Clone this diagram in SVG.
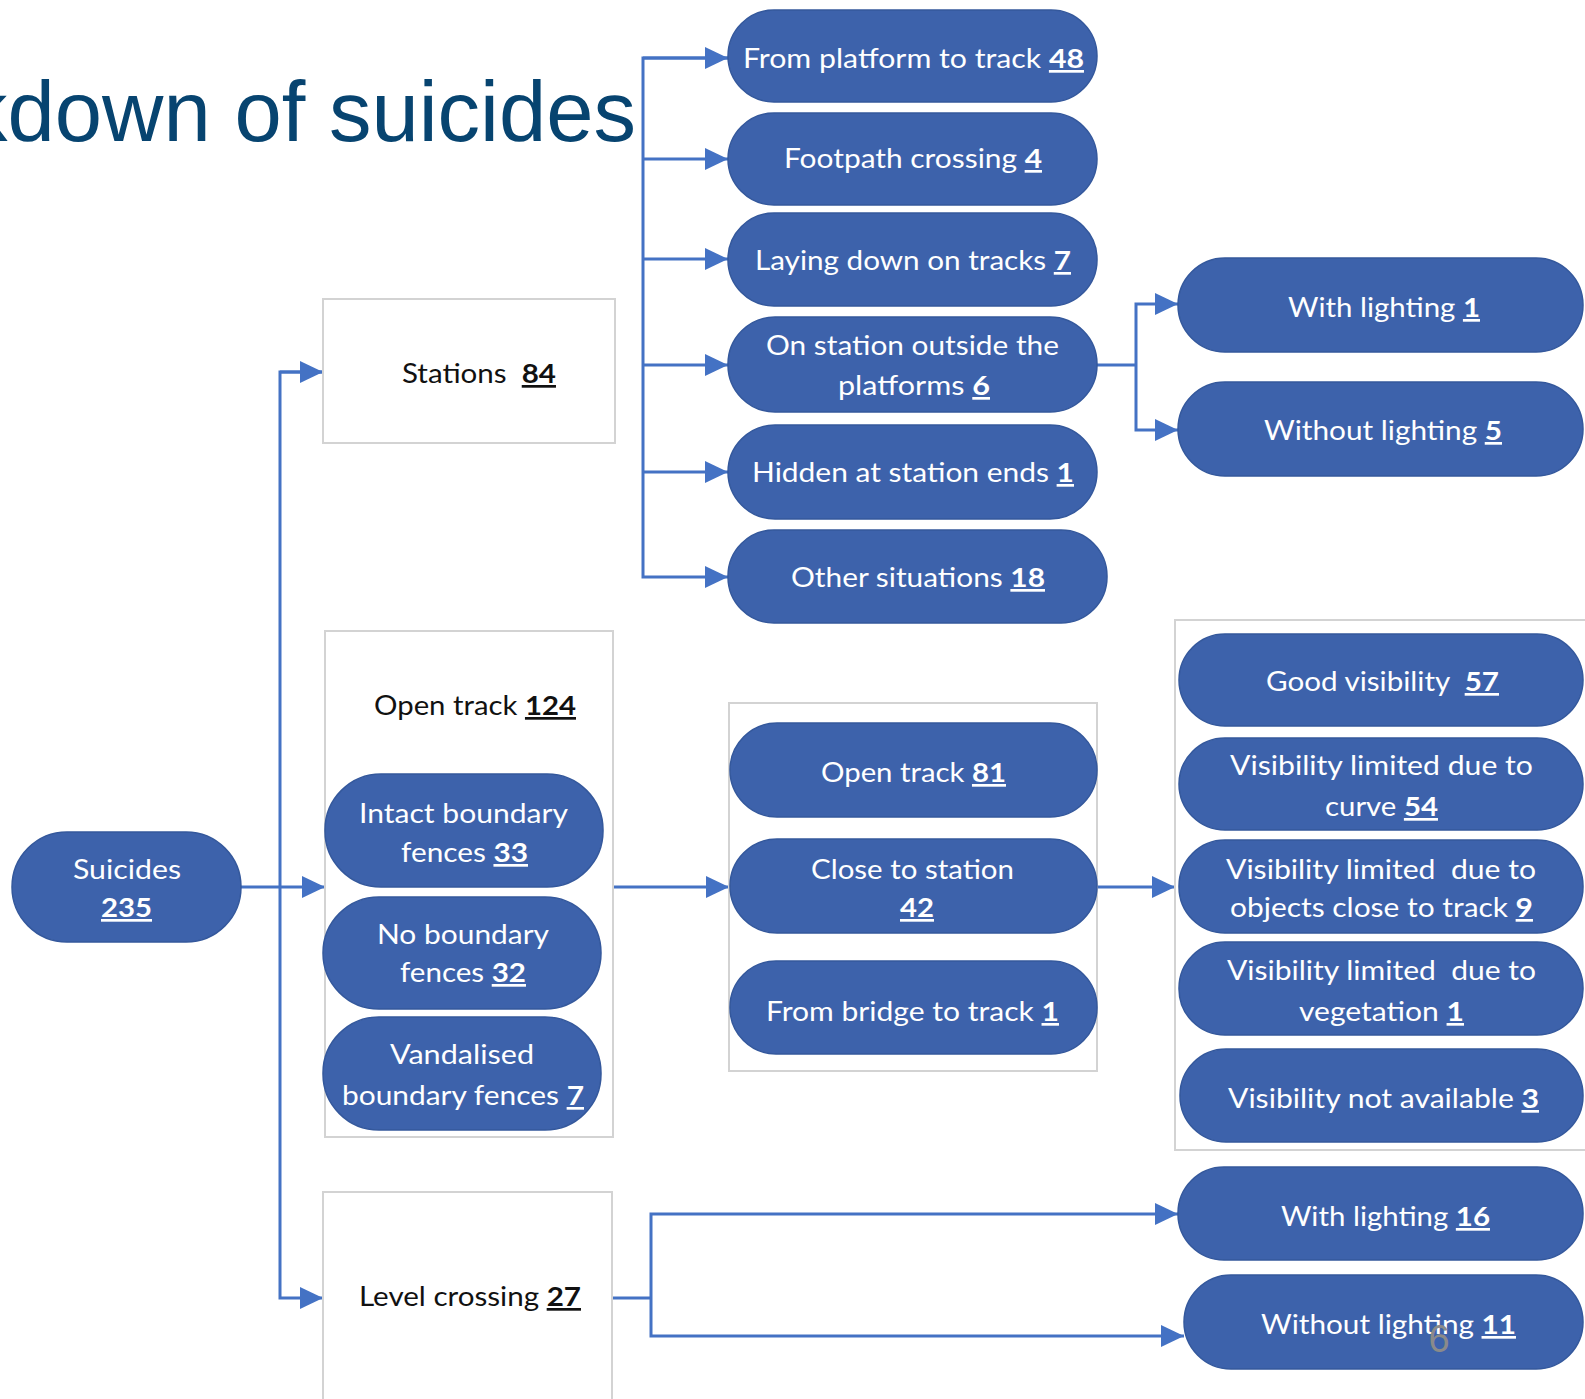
<svg xmlns="http://www.w3.org/2000/svg" width="1585" height="1399" viewBox="0 0 1585 1399">
<style>
.pill{fill:#3d62ab;stroke:#34589c;stroke-width:1.5}
.box{fill:#ffffff;stroke:#d3d3d3;stroke-width:2}
.wt{font-family:Lato,"Open Sans","Liberation Sans",sans-serif;font-size:27px;fill:#ffffff;text-anchor:middle}
.bt{font-family:Lato,"Open Sans","Liberation Sans",sans-serif;font-size:27px;fill:#111111;text-anchor:middle}
.n{font-weight:bold;text-decoration:underline}
.conn{fill:none;stroke:#4472c4;stroke-width:3}
.title{font-family:"Liberation Sans",Arial,sans-serif;font-size:85px;fill:#074470;text-anchor:end}
</style>
<defs>
<marker id="arr" markerUnits="userSpaceOnUse" markerWidth="23" markerHeight="22" refX="23" refY="11" orient="auto">
<path d="M0,0 L23,11 L0,22 z" fill="#4472c4"/>
</marker>
</defs>
<rect width="1585" height="1399" fill="#ffffff"/>

<text class="title" x="636" y="141">kdown of suicides</text>

<g id="connectors">
<path class="conn" d="M241,887 H325" marker-end="url(#arr)"/>
<path class="conn" d="M323,372 H280 V1298 H323" marker-end="url(#arr)"/>
<path class="conn" d="M280,372 H323" marker-end="url(#arr)"/>
<path class="conn" d="M728,58 H643 V577 H728" marker-end="url(#arr)"/>
<path class="conn" d="M643,58 H728" marker-end="url(#arr)"/>
<path class="conn" d="M643,159 H728" marker-end="url(#arr)"/>
<path class="conn" d="M643,259 H728" marker-end="url(#arr)"/>
<path class="conn" d="M643,365 H728" marker-end="url(#arr)"/>
<path class="conn" d="M643,472 H728" marker-end="url(#arr)"/>
<path class="conn" d="M1097,365 H1136"/>
<path class="conn" d="M1136,365 V304 H1178" marker-end="url(#arr)"/>
<path class="conn" d="M1136,365 V430 H1178" marker-end="url(#arr)"/>
<path class="conn" d="M613,887 H729" marker-end="url(#arr)"/>
<path class="conn" d="M1097,887 H1175" marker-end="url(#arr)"/>
<path class="conn" d="M612,1298 H651"/>
<path class="conn" d="M651,1298 V1214 H1178" marker-end="url(#arr)"/>
<path class="conn" d="M651,1298 V1336 H1184" marker-end="url(#arr)"/>
</g>

<g id="suicides">
<rect class="pill" x="12" y="832" width="229" height="110" rx="55"/>
<text class="wt" x="127" y="879" textLength="108" lengthAdjust="spacingAndGlyphs">Suicides</text>
<text class="wt" x="126.5" y="917" textLength="51" lengthAdjust="spacingAndGlyphs"><tspan class="n">235</tspan></text>
</g>

<g id="stations">
<rect class="box" x="323" y="299" width="292" height="144"/>
<text class="bt" x="479" y="383" textLength="154" lengthAdjust="spacingAndGlyphs" xml:space="preserve">Stations  <tspan class="n">84</tspan></text>
</g>

<g id="opentrack-group">
<rect class="box" x="325" y="631" width="288" height="506"/>
<text class="bt" x="475" y="715" textLength="202" lengthAdjust="spacingAndGlyphs">Open track <tspan class="n">124</tspan></text>
</g>
<g id="intact">
<rect class="pill" x="325" y="774" width="278" height="113" rx="56"/>
<text class="wt" x="463.5" y="823" textLength="209" lengthAdjust="spacingAndGlyphs">Intact boundary</text>
<text class="wt" x="464.5" y="862" textLength="127" lengthAdjust="spacingAndGlyphs">fences <tspan class="n">33</tspan></text>
</g>
<g id="noboundary">
<rect class="pill" x="323" y="897" width="278" height="112" rx="56"/>
<text class="wt" x="463" y="944" textLength="172" lengthAdjust="spacingAndGlyphs">No boundary</text>
<text class="wt" x="463" y="982" textLength="126" lengthAdjust="spacingAndGlyphs">fences <tspan class="n">32</tspan></text>
</g>
<g id="vandalised">
<rect class="pill" x="323" y="1017" width="278" height="113" rx="56"/>
<text class="wt" x="462" y="1064" textLength="144" lengthAdjust="spacingAndGlyphs">Vandalised</text>
<text class="wt" x="463" y="1105" textLength="242" lengthAdjust="spacingAndGlyphs">boundary fences <tspan class="n">7</tspan></text>
</g>

<g id="levelcrossing">
<rect class="box" x="323" y="1192" width="289" height="230"/>
<text class="bt" x="470" y="1306" textLength="222" lengthAdjust="spacingAndGlyphs">Level crossing <tspan class="n">27</tspan></text>
</g>

<g id="from-platform">
<rect class="pill" x="728" y="10" width="369" height="92" rx="46"/>
<text class="wt" x="913.5" y="68" textLength="341" lengthAdjust="spacingAndGlyphs">From platform to track <tspan class="n">48</tspan></text>
</g>
<g id="footpath">
<rect class="pill" x="728" y="113" width="369" height="92" rx="46"/>
<text class="wt" x="913" y="168" textLength="258" lengthAdjust="spacingAndGlyphs">Footpath crossing <tspan class="n">4</tspan></text>
</g>
<g id="laying">
<rect class="pill" x="728" y="213" width="369" height="93" rx="46"/>
<text class="wt" x="913" y="270" textLength="316" lengthAdjust="spacingAndGlyphs">Laying down on tracks <tspan class="n">7</tspan></text>
</g>
<g id="outside-platforms">
<rect class="pill" x="728" y="317" width="369" height="95" rx="47"/>
<text class="wt" x="912.5" y="355" textLength="293" lengthAdjust="spacingAndGlyphs">On station outside the</text>
<text class="wt" x="914" y="395" textLength="152" lengthAdjust="spacingAndGlyphs">platforms <tspan class="n">6</tspan></text>
</g>
<g id="hidden">
<rect class="pill" x="728" y="425" width="369" height="94" rx="47"/>
<text class="wt" x="913" y="482" textLength="322" lengthAdjust="spacingAndGlyphs">Hidden at station ends <tspan class="n">1</tspan></text>
</g>
<g id="other">
<rect class="pill" x="728" y="530" width="379" height="93" rx="46"/>
<text class="wt" x="918" y="587" textLength="254" lengthAdjust="spacingAndGlyphs">Other situations <tspan class="n">18</tspan></text>
</g>

<g id="with-lighting-1">
<rect class="pill" x="1178" y="258" width="405" height="94" rx="47"/>
<text class="wt" x="1384" y="317" textLength="192" lengthAdjust="spacingAndGlyphs">With lighting <tspan class="n">1</tspan></text>
</g>
<g id="without-lighting-5">
<rect class="pill" x="1178" y="382" width="405" height="94" rx="47"/>
<text class="wt" x="1383" y="440" textLength="238" lengthAdjust="spacingAndGlyphs">Without lighting <tspan class="n">5</tspan></text>
</g>

<g id="location-group">
<rect class="box" x="729" y="703" width="368" height="368"/>
</g>
<g id="opentrack81">
<rect class="pill" x="730" y="723" width="367" height="94" rx="47"/>
<text class="wt" x="913.5" y="782" textLength="185" lengthAdjust="spacingAndGlyphs">Open track <tspan class="n">81</tspan></text>
</g>
<g id="close-station">
<rect class="pill" x="730" y="839" width="367" height="94" rx="47"/>
<text class="wt" x="912.5" y="879" textLength="203" lengthAdjust="spacingAndGlyphs">Close to station</text>
<text class="wt" x="917" y="917" textLength="34" lengthAdjust="spacingAndGlyphs"><tspan class="n">42</tspan></text>
</g>
<g id="from-bridge">
<rect class="pill" x="730" y="961" width="367" height="93" rx="46"/>
<text class="wt" x="912.5" y="1021" textLength="293" lengthAdjust="spacingAndGlyphs">From bridge to track <tspan class="n">1</tspan></text>
</g>

<g id="visibility-group">
<rect class="box" x="1175" y="620" width="430" height="530"/>
</g>
<g id="good-visibility">
<rect class="pill" x="1179" y="634" width="404" height="92" rx="46"/>
<text class="wt" x="1382.5" y="691" textLength="233" lengthAdjust="spacingAndGlyphs" xml:space="preserve">Good visibility  <tspan class="n">57</tspan></text>
</g>
<g id="curve">
<rect class="pill" x="1179" y="738" width="404" height="92" rx="46"/>
<text class="wt" x="1381.5" y="775" textLength="303" lengthAdjust="spacingAndGlyphs">Visibility limited due to</text>
<text class="wt" x="1381.5" y="816" textLength="113" lengthAdjust="spacingAndGlyphs">curve <tspan class="n">54</tspan></text>
</g>
<g id="objects">
<rect class="pill" x="1179" y="840" width="404" height="93" rx="46"/>
<text class="wt" x="1381" y="879" textLength="310" lengthAdjust="spacingAndGlyphs" xml:space="preserve">Visibility limited  due to</text>
<text class="wt" x="1381.5" y="917" textLength="303" lengthAdjust="spacingAndGlyphs">objects close to track <tspan class="n">9</tspan></text>
</g>
<g id="vegetation">
<rect class="pill" x="1179" y="942" width="404" height="93" rx="46"/>
<text class="wt" x="1381.5" y="980" textLength="309" lengthAdjust="spacingAndGlyphs" xml:space="preserve">Visibility limited  due to</text>
<text class="wt" x="1381.5" y="1021" textLength="165" lengthAdjust="spacingAndGlyphs">vegetation <tspan class="n">1</tspan></text>
</g>
<g id="not-available">
<rect class="pill" x="1180" y="1049" width="403" height="93" rx="46"/>
<text class="wt" x="1383.5" y="1108" textLength="311" lengthAdjust="spacingAndGlyphs">Visibility not available <tspan class="n">3</tspan></text>
</g>

<g id="with-lighting-16">
<rect class="pill" x="1178" y="1167" width="405" height="93" rx="46"/>
<text class="wt" x="1385.5" y="1226" textLength="209" lengthAdjust="spacingAndGlyphs">With lighting <tspan class="n">16</tspan></text>
</g>
<g id="without-lighting-11">
<rect class="pill" x="1184" y="1275" width="399" height="94" rx="47"/>
<text class="wt" x="1388.5" y="1334" textLength="255" lengthAdjust="spacingAndGlyphs">Without lighting <tspan class="n">11</tspan></text>
</g>

<text x="1439" y="1352" font-family="'Liberation Sans',Arial,sans-serif" font-size="38" fill="#8a8a8a" text-anchor="middle">6</text>
</svg>
